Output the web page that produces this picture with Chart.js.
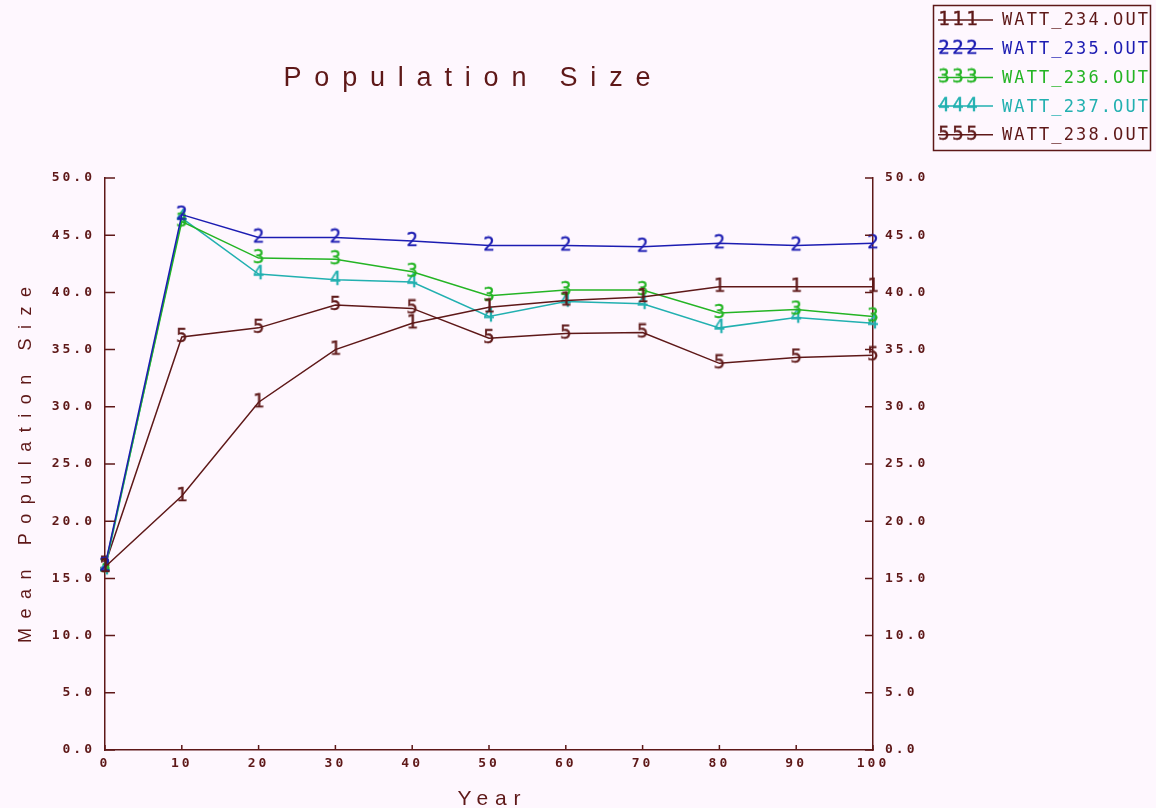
<!DOCTYPE html>
<html>
<head>
<meta charset="utf-8">
<script src="https://cdn.jsdelivr.net/npm/chart.js@4/dist/chart.umd.min.js"></script>
<style>
  html, body { margin: 0; padding: 0; background: #fef7fe; }
  #wrap { width: 1156px; height: 808px; }
</style>
</head>
<body>
<div id="wrap"><canvas id="chart1"></canvas></div>
<script>
    let years = [0, 10, 20, 30, 40, 50, 60, 70, 80, 90, 100];
    let watt234 = [16.0, 22.2, 30.4, 35.0, 37.3, 38.7, 39.3, 39.6, 40.5, 40.5, 40.5];
    let watt235 = [16.1, 46.8, 44.8, 44.8, 44.5, 44.1, 44.1, 44.0, 44.3, 44.1, 44.3];
    let watt236 = [16.0, 46.2, 43.0, 42.9, 41.8, 39.7, 40.2, 40.2, 38.2, 38.5, 37.9];
    let watt237 = [15.8, 46.5, 41.6, 41.1, 40.9, 37.9, 39.2, 39.0, 36.9, 37.8, 37.3];
    let watt238 = [16.2, 36.1, 36.9, 38.9, 38.6, 36.0, 36.4, 36.5, 33.8, 34.3, 34.5];
    let seriesNames = ['WATT_234.OUT', 'WATT_235.OUT', 'WATT_236.OUT', 'WATT_237.OUT', 'WATT_238.OUT'];
    let seriesMarks = ['1', '2', '3', '4', '5'];
    let seriesColors = ['#5e1818', '#1c1cb2', '#24b424', '#22b0b0', '#5e1818'];
    let seriesValues = [watt234, watt235, watt236, watt237, watt238];

    let axisColor = '#5e1818';
    let tickFont = { family: 'DejaVu Sans Mono', size: 13, weight: 'bold' };

    // digit markers like the old plotting program
    function makeMark(ch, color) {
        let c = document.createElement('canvas');
        c.width = 16; c.height = 20;
        let g = c.getContext('2d');
        g.font = '19px "DejaVu Sans Mono"';
        g.fillStyle = color;
        g.strokeStyle = color;
        g.lineWidth = 0.4;
        g.textAlign = 'center';
        g.textBaseline = 'middle';
        g.fillText(ch, 8, 10.5);
        g.strokeText(ch, 8, 10.5);
        return c;
    }

    let datasets = seriesValues.map(function(vals, i) {
        return {
            label: seriesNames[i],
            data: years.map(function(x, j) { return { x: x, y: vals[j] }; }),
            borderColor: seriesColors[i],
            backgroundColor: seriesColors[i],
            borderWidth: 1.5,
            pointStyle: makeMark(seriesMarks[i], seriesColors[i]),
            pointRadius: 8,
            tension: 0,
            clip: false
        };
    });

    function spacedText(ctx, text, cx, cy, width) {
        ctx.letterSpacing = '0px';
        let w = ctx.measureText(text).width;
        let sp = (width - w) / (text.length - 1);
        ctx.letterSpacing = sp + 'px';
        ctx.textAlign = 'left';
        ctx.fillText(text, cx - width / 2, cy);
        ctx.letterSpacing = '0px';
    }

    let decor = {
        id: 'decor',
        beforeDraw: function(chart) {
            chart.ctx.letterSpacing = '3px';
        },
        afterDraw: function(chart) {
            let ctx = chart.ctx;
            ctx.save();
            ctx.letterSpacing = '0px';
            let xs = chart.scales.x, ys = chart.scales.y;
            let area = chart.chartArea;
            // inward tick marks
            ctx.strokeStyle = axisColor;
            ctx.lineWidth = 1.5;
            ctx.beginPath();
            ys.ticks.forEach(function(t) {
                let py = ys.getPixelForValue(t.value);
                ctx.moveTo(area.left, py); ctx.lineTo(area.left + 10, py);
                ctx.moveTo(area.right, py); ctx.lineTo(area.right - 8, py);
            });
            xs.ticks.forEach(function(t) {
                let px = xs.getPixelForValue(t.value);
                ctx.moveTo(px, area.bottom); ctx.lineTo(px, area.bottom - 5);
            });
            ctx.stroke();

            // titles
            ctx.fillStyle = axisColor;
            ctx.textBaseline = 'alphabetic';
            ctx.font = '27px "Liberation Sans"';
            spacedText(ctx, 'Population Size', 467, 86, 367);
            ctx.font = '21px "Liberation Sans"';
            spacedText(ctx, 'Year', 489, 805, 63);
            ctx.save();
            ctx.translate(31, 465);
            ctx.rotate(-Math.PI / 2);
            ctx.font = '18px "Liberation Sans"';
            spacedText(ctx, 'Mean Population Size', 0, 0, 356);
            ctx.restore();

            // legend box
            ctx.strokeStyle = axisColor;
            ctx.lineWidth = 1.5;
            ctx.strokeRect(933.5, 5.5, 217, 145);
            ctx.font = '17px "DejaVu Sans Mono"';
            seriesNames.forEach(function(name, i) {
                let ly = 20 + i * 28.7;
                ctx.strokeStyle = seriesColors[i];
                ctx.lineWidth = 1.5;
                ctx.beginPath();
                ctx.moveTo(938, ly); ctx.lineTo(993, ly);
                ctx.stroke();
                let mark = chart.data.datasets[i].pointStyle;
                [944, 958, 972].forEach(function(mx) {
                    ctx.drawImage(mark, mx - 8, ly - 10);
                });
                ctx.fillStyle = seriesColors[i];
                ctx.textBaseline = 'middle';
                spacedText(ctx, name, 1075, ly + 1, 146);
            });
            ctx.restore();
        }
    };

    let chart1 = document.getElementById('chart1').getContext('2d');

    let popChart = new Chart(chart1, {
        type: 'line',
        data: { datasets: datasets },
        options: {
            responsive: true,
            maintainAspectRatio: false,
            animation: false,
            events: [],
            layout: { padding: { top: 178, left: 0, right: 0, bottom: 0 } },
            plugins: {
                legend: { display: false },
                title: { display: false },
                tooltip: { enabled: false }
            },
            scales: {
                x: {
                    type: 'linear',
                    min: 0, max: 100,
                    afterFit: function(s) { s.height = 58; },
                    ticks: { stepSize: 10, color: axisColor, font: tickFont, padding: 6, maxRotation: 0 },
                    grid: { drawOnChartArea: false, drawTicks: false },
                    border: { color: axisColor, width: 1.5 }
                },
                y: {
                    position: 'left',
                    min: 0, max: 50,
                    afterFit: function(s) { s.width = 105; },
                    ticks: { stepSize: 5, color: axisColor, font: tickFont, padding: 10,
                        callback: function(v) { return v.toFixed(1); } },
                    grid: { drawOnChartArea: false, drawTicks: false },
                    border: { color: axisColor, width: 1.5 }
                },
                y2: {
                    position: 'right',
                    min: 0, max: 50,
                    afterFit: function(s) { s.width = 283; },
                    ticks: { stepSize: 5, color: axisColor, font: tickFont, padding: 12,
                        callback: function(v) { return v.toFixed(1); } },
                    grid: { drawOnChartArea: false, drawTicks: false },
                    border: { color: axisColor, width: 1.5 }
                }
            }
        },
        plugins: [decor]
    });
</script>
</body>
</html>
